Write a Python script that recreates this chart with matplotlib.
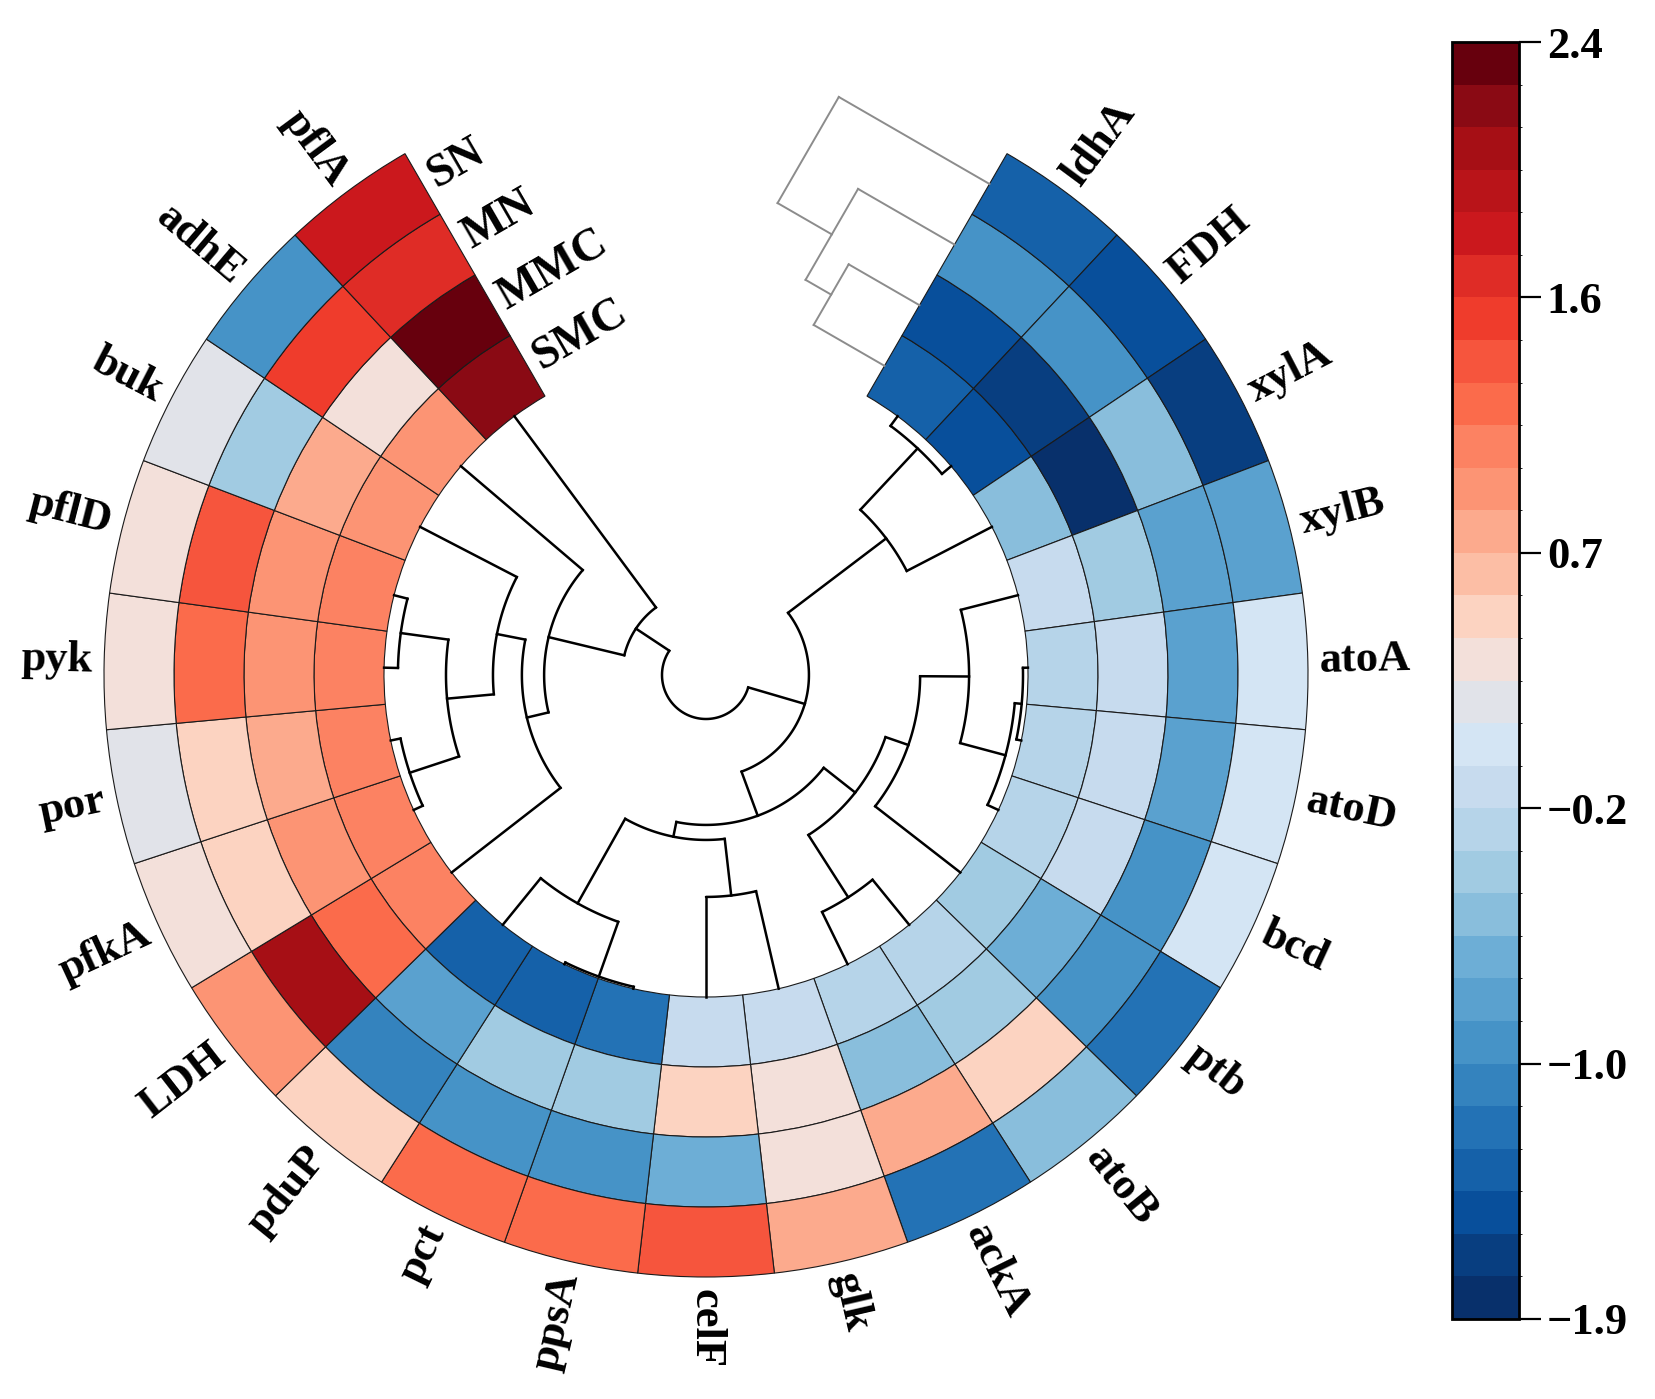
import numpy as np
import matplotlib
matplotlib.use("Agg")
import matplotlib.pyplot as plt
from matplotlib.colors import ListedColormap, BoundaryNorm
import matplotlib.cm as cm

# ---------------- data ----------------
genes = ["ldhA", "FDH", "xylA", "xylB", "atoA", "atoD", "bcd", "ptb", "atoB", "ackA",
         "glk", "celF", "ppsA", "pct", "pduP", "LDH", "pfkA", "por", "pyk", "pflD",
         "buk", "adhE", "pflA"]
samples = ["SN", "MN", "MMC", "SMC"]          # outer ring -> inner ring

SN = [-1.40, -1.54, -1.68, -0.82, 0.04, 0.04, 0.04, -1.25, -0.54, -1.25, 0.75, 1.33,
      1.19, 1.19, 0.47, 0.90, 0.32, 0.18, 0.32, 0.32, 0.18, -0.97, 1.76]
MN = [-0.97, -0.97, -0.54, -0.82, -0.82, -0.82, -0.97, -0.97, 0.47, 0.75, 0.32, -0.68,
      -0.97, -0.97, -1.11, 2.04, 0.47, 0.47, 1.19, 1.33, -0.39, 1.47, 1.62]
MMC = [-1.54, -1.68, -1.83, -0.39, -0.11, -0.11, -0.11, -0.68, -0.39, -0.54, 0.32, 0.47,
       -0.39, -0.39, -0.82, 1.19, 0.90, 0.75, 0.90, 0.90, 0.75, 0.32, 2.33]
SMC = [-1.40, -1.54, -0.54, -0.11, -0.25, -0.25, -0.25, -0.39, -0.25, -0.25, -0.11, -0.11,
       -1.25, -1.40, -1.40, 1.04, 1.04, 1.04, 1.04, 1.04, 0.90, 0.90, 2.19]

# gene dendrogram: leaves 0..22, merge k creates node 23+k ; (child a, child b, height)
gene_merges = [(0, 1, 0.043), (23, 2, 0.345), (4, 5, 0.018), (25, 6, 0.043),
               (3, 26, 0.212), (27, 7, 0.388), (8, 9, 0.209), (28, 29, 0.475),
               (10, 11, 0.360), (12, 13, 0.007), (32, 14, 0.216), (31, 33, 0.565),
               (30, 34, 0.619), (24, 35, 0.788), (16, 17, 0.036), (18, 19, 0.050),
               (37, 38, 0.223), (39, 20, 0.392), (15, 40, 0.496), (41, 21, 0.576),
               (42, 22, 0.856), (36, 43, 1.000)]
# sample dendrogram: leaves 0..3 (SN, MN, MMC, SMC), merge k creates node 4+k
sample_merges = [(2, 3, 0.47), (1, 4, 0.64), (0, 5, 1.00)]

vmin, vmax, nlev = -1.9, 2.4, 30
cbar_labels = ["\u22121.9", "\u22121.0", "\u22120.2", "0.7", "1.6", "2.4"]

# ---------------- style ----------------
level_colors = ["#08306b", "#083e80", "#084f9b", "#1561a9", "#2372b5", "#3483be",
                "#4693c7", "#5aa1cf", "#6daed6", "#89bedc", "#a1cbe2", "#b6d4e9",
                "#c7dbee", "#d4e5f4", "#e1e3e9", "#f3e0da", "#fcd3c1", "#fcbea5",
                "#fcaa8d", "#fc9474", "#fc8262", "#fb6b4b", "#f6553d", "#ef3c2c",
                "#df2c26", "#cb181d", "#b91419", "#a60f15", "#8a0a14", "#67000d"]
cmap = ListedColormap(level_colors)
norm = BoundaryNorm(np.linspace(vmin, vmax, nlev + 1), cmap.N)

FONT = "Liberation Serif"
W, H = 1655, 1399
CX, CY = 706, 675          # circle centre (px from top-left)
RMAX = 640
R_IN, RING = 322, 70
DEPTH = R_IN - 44          # radius span of gene dendrogram
S_DEPTH = 174              # length of sample dendrogram
GAP = 30.0                 # half gap (deg) at the top
n = len(genes)
step = (360 - 2 * GAP) / n

fig = plt.figure(figsize=(W / 100, H / 100), dpi=100)
ax = fig.add_axes([(CX - RMAX) / W, (H - CY - RMAX) / H, 2 * RMAX / W, 2 * RMAX / H],
                  projection="polar")
ax.set_theta_zero_location("N")
ax.set_theta_direction(-1)
ax.set_ylim(0, RMAX)
ax.axis("off")

theta_deg = GAP + step * (np.arange(n) + 0.5)
theta = np.deg2rad(theta_deg)

# ---------------- heat-map rings ----------------
rings = [SMC, MMC, MN, SN]   # inner -> outer
for k, vals in enumerate(rings):
    ax.bar(theta, RING, width=np.deg2rad(step), bottom=R_IN + k * RING,
           color=cmap(norm(np.array(vals))), edgecolor="#1a1a1a", linewidth=0.8,
           align="center")

# ---------------- gene dendrogram ----------------
node_t = list(theta)
node_r = [R_IN] * n
for a, b, h in gene_merges:
    r = R_IN - h * DEPTH
    ta, tb = node_t[a], node_t[b]
    tt = np.linspace(ta, tb, 80)
    ax.plot(tt, np.full_like(tt, r), color="black", lw=1.8, solid_capstyle="round")
    ax.plot([ta, ta], [node_r[a], r], color="black", lw=1.8)
    ax.plot([tb, tb], [node_r[b], r], color="black", lw=1.8)
    node_t.append((ta + tb) / 2)
    node_r.append(r)

# ---------------- sample dendrogram (in the gap) ----------------
edge = GAP  # deg, right edge of the gap


def to_polar(u, d):
    return np.deg2rad(edge - np.degrees(np.arctan2(d, u))), np.hypot(u, d)


s_u = [R_IN + (3.5 - i) * RING for i in range(len(samples))]
s_d = [0.0] * len(samples)
for a, b, h in sample_merges:
    d = h * S_DEPTH
    for c in (a, b):
        t0, r0 = to_polar(s_u[c], s_d[c])
        t1, r1 = to_polar(s_u[c], d)
        ax.plot([t0, t1], [r0, r1], color="#8c8c8c", lw=1.4)
    t0, r0 = to_polar(s_u[a], d)
    t1, r1 = to_polar(s_u[b], d)
    ax.plot([t0, t1], [r0, r1], color="#8c8c8c", lw=1.4)
    s_u.append((s_u[a] + s_u[b]) / 2)
    s_d.append(d)

# ---------------- gene labels ----------------
for t, td, g in zip(theta, theta_deg, genes):
    if td <= 180:
        rot, ha = 90 - td, "left"
    else:
        rot, ha = 270 - td, "right"
    ax.text(t, R_IN + 4 * RING + 12, g, rotation=rot, rotation_mode="anchor",
            ha=ha, va="center", fontsize=32, fontweight="bold", family=FONT)

# ---------------- sample labels ----------------
left_edge = 360 - GAP
for i, s in enumerate(samples):
    u = R_IN + (3.5 - i) * RING
    d = 10
    t = np.deg2rad(left_edge + np.degrees(np.arctan2(d, u)))
    ax.text(t, np.hypot(u, d), s, rotation=GAP, rotation_mode="anchor",
            ha="left", va="center", fontsize=33, fontweight="bold", family=FONT)

# ---------------- colour bar ----------------
cax = fig.add_axes([1452 / W, (H - 1319) / H, 67 / W, (1319 - 42) / H])
cb = fig.colorbar(cm.ScalarMappable(norm=norm, cmap=cmap), cax=cax,
                  ticks=np.linspace(vmin, vmax, len(cbar_labels)))
cb.ax.set_yticklabels(cbar_labels)
for lab in cb.ax.get_yticklabels():
    lab.set_fontsize(32)
    lab.set_fontweight("bold")
    lab.set_family(FONT)
cb.ax.tick_params(length=16, width=1.6, pad=4)
cb.outline.set_linewidth(2)

fig.savefig("out.png", dpi=100, facecolor="white")
